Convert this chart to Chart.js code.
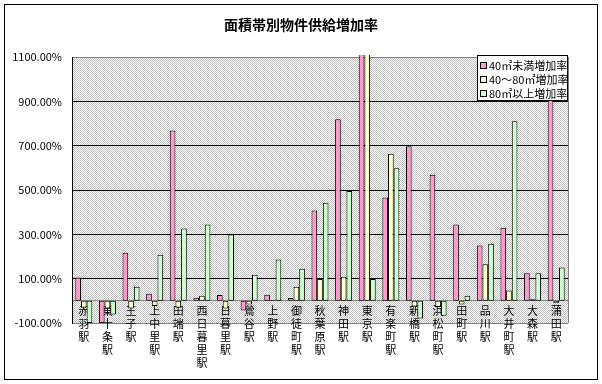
<!DOCTYPE html>
<html lang="ja">
<head>
    <meta charset="utf-8">
    <title>面積帯別物件供給増加率</title>
    <style>
        body { margin: 0; background: #fff; }
        #wrap { width: 602px; height: 384px; position: relative; }
    </style>
</head>
<body>
    <div id="wrap"><canvas id="myChart"></canvas></div>
    <script src="https://cdn.jsdelivr.net/npm/chart.js"></script>
    <script>
        // stations along the line (labels are drawn one character per line)
        const stations = ['赤羽駅', '東十条駅', '王子駅', '上中里駅', '田端駅', '西日暮里駅', '日暮里駅',
            '鶯谷駅', '上野駅', '御徒町駅', '秋葉原駅', '神田駅', '東京駅', '有楽町駅', '新橋駅',
            '浜松町駅', '田町駅', '品川駅', '大井町駅', '大森駅', '蒲田駅']
        const series_names = ['40㎡未満増加率', '40～80㎡増加率', '80㎡以上増加率']
        // growth rate in %
        const small_rate = [105, -100, 217, 32, 768, 14, 26, -44, 28, 13, 407, 819, 1300, 466, 697, 569, 344, 250, 330, 124, 1180]
        const mid_rate = [-31, -35, -35, -23, -31, 23, -35, -17, 5, 64, 98, 109, 1280, 664, -25, -28, -17, 165, 47, 7, -11]
        const large_rate = [-100, -62, 64, 208, 326, 344, 299, 118, 186, 145, 443, 495, 98, 598, -80, -67, 23, 258, 810, 124, 150]
        const y_min = -100
        const y_max = 1100
        const y_step = 200

        const colors = ['#FF99CC', '#FFFFCC', '#CCFFCC']
        const font_family = "'Noto Sans CJK JP', 'Noto Sans', sans-serif"

        // grey dither used as plot background
        const pat_canvas = document.createElement('canvas')
        pat_canvas.width = 2
        pat_canvas.height = 2
        const pctx = pat_canvas.getContext('2d')
        pctx.fillStyle = '#ffffff'
        pctx.fillRect(0, 0, 2, 2)
        pctx.fillStyle = '#c0c0c0'
        pctx.fillRect(0, 0, 1, 1)
        pctx.fillRect(1, 1, 1, 1)

        const frame_plugin = {
            id: 'frame',
            beforeDraw(chart) {
                const c = chart.ctx
                const a = chart.chartArea
                c.save()
                c.fillStyle = '#ffffff'
                c.fillRect(0, 0, chart.width, chart.height)
                c.fillStyle = c.createPattern(pat_canvas, 'repeat')
                c.fillRect(a.left, a.top, a.right - a.left, a.bottom - a.top)
                c.strokeStyle = '#000000'
                c.lineWidth = 1
                c.strokeRect(4.5, 4.5, chart.width - 9, chart.height - 9)
                c.restore()
            },
            afterDraw(chart) {
                const c = chart.ctx
                const a = chart.chartArea
                c.save()
                c.strokeStyle = '#808080'
                c.lineWidth = 1
                c.beginPath()
                c.moveTo(Math.round(a.right) + 0.5, a.top)
                c.lineTo(Math.round(a.right) + 0.5, a.bottom)
                c.stroke()
                // legend box in the top right corner of the plot
                const lx = 477.5, ly = 55.5, lw = 90, lh = 45
                c.fillStyle = '#ffffff'
                c.fillRect(lx, ly, lw, lh)
                c.strokeStyle = '#000000'
                c.strokeRect(lx, ly, lw, lh)
                c.font = '11px ' + font_family
                c.textBaseline = 'middle'
                chart.data.datasets.forEach((ds, i) => {
                    const y = 66 + i * 14
                    c.fillStyle = ds.backgroundColor
                    c.fillRect(480.5, y - 3.5, 6, 6)
                    c.strokeRect(480.5, y - 3.5, 6, 6)
                    c.fillStyle = '#000000'
                    c.fillText(ds.label, 489, y)
                })
                c.restore()
            }
        }

        const bar_data = [small_rate, mid_rate, large_rate]
        const config = {
            type: 'bar',
            data: {
                labels: stations.map(s => s.split('')),
                datasets: bar_data.map((d, i) => ({
                    label: series_names[i],
                    data: d,
                    backgroundColor: colors[i],
                    borderColor: '#000000',
                    borderWidth: 1,
                    borderSkipped: false,
                    categoryPercentage: 0.72,
                    barPercentage: 1.0,
                    clip: { left: 0, top: 2, right: 0, bottom: 0 }
                }))
            },
            options: {
                responsive: true,
                maintainAspectRatio: false,
                animation: false,
                layout: {
                    padding: { left: 10, right: 10, top: 4, bottom: 61 }
                },
                scales: {
                    x: {
                        position: { y: 0 },
                        grid: { drawOnChartArea: false, drawTicks: false },
                        border: { display: true, color: '#888888' },
                        ticks: {
                            autoSkip: false,
                            maxRotation: 0,
                            minRotation: 0,
                            padding: 4,
                            color: '#000000',
                            font: { family: font_family, size: 11, lineHeight: '12.8px' }
                        },
                        afterFit: (scale) => { scale.height = 0 }
                    },
                    y: {
                        min: y_min,
                        max: y_max,
                        grid: {
                            drawTicks: false,
                            color: (ctx) => (ctx.tick && (ctx.tick.value === y_min || ctx.tick.value === y_max)) ? '#808080' : '#000000'
                        },
                        border: { display: true, color: '#000000' },
                        ticks: {
                            stepSize: y_step,
                            padding: 10,
                            color: '#000000',
                            font: { family: font_family, size: 11 },
                            callback: (v) => v.toFixed(2) + '%'
                        },
                        afterFit: (scale) => { scale.width = 62 }
                    },
                    // empty right axis, only keeps the plot off the right edge
                    y2: {
                        position: 'right',
                        grid: { drawOnChartArea: false, drawTicks: false },
                        border: { display: false },
                        ticks: { display: false },
                        afterFit: (scale) => { scale.width = 24 }
                    }
                },
                plugins: {
                    legend: { display: false },
                    tooltip: { enabled: false },
                    title: {
                        display: true,
                        text: '面積帯別物件供給増加率',
                        color: '#000000',
                        font: { family: font_family, size: 14, weight: 'bold' },
                        padding: { top: 12, bottom: 24.2 }
                    }
                }
            },
            plugins: [frame_plugin]
        }
        const ctx = document.getElementById('myChart').getContext('2d')
        const chart_object = new Chart(ctx, config)
    </script>
</body>
</html>
